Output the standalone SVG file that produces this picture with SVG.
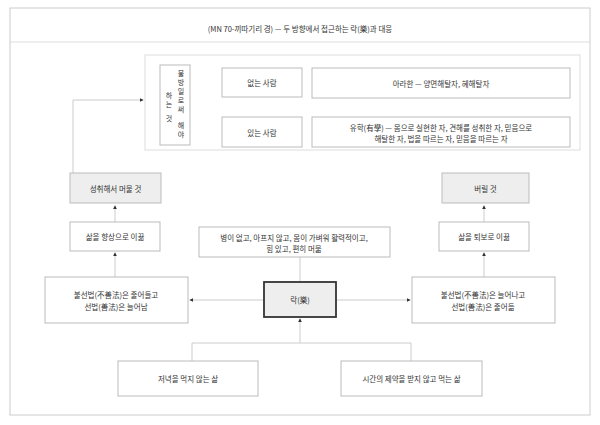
<svg xmlns="http://www.w3.org/2000/svg" width="600" height="425" viewBox="0 0 600 425">
<style>
text{font-family:"Noto Sans CJK KR","Noto Sans",sans-serif;font-size:7.5px;fill:#333;text-anchor:middle;dominant-baseline:central}
.v{font-size:7px}
.b{fill:#fff;stroke:#bbb;stroke-width:1}
.g{fill:#eee;stroke:#bbb;stroke-width:1}
.c{fill:none;stroke:#ccc;stroke-width:1}
</style>
<defs><marker id="a" viewBox="0 0 6 6" refX="5" refY="3" markerWidth="4" markerHeight="4" orient="auto"><path d="M0,0L6,3L0,6z" fill="#333"/></marker></defs>
<rect width="600" height="425" fill="#fff"/>
<rect x="10" y="8" width="580" height="407" fill="none" stroke="#ccc"/>
<text x="300" y="28" font-size="8">(MN 70-끼따기리 경) — 두 방향에서 접근하는 락(樂)과 대응</text>
<line x1="10" y1="42" x2="590" y2="42" stroke="#ddd"/>
<g id="connectors">
<path class="c" d="M190,105H207M207,82V132M207,82H222M207,132H222M302,82H312M302,132H312"/>
<path class="c" d="M73,173V100H143" marker-end="url(#a)"/>
<path class="c" d="M115,277V253" marker-end="url(#a)"/>
<path class="c" d="M115,222V206" marker-end="url(#a)"/>
<path class="c" d="M484,277V253" marker-end="url(#a)"/>
<path class="c" d="M484,222V206" marker-end="url(#a)"/>
<path class="c" d="M300,257V282"/>
<path class="c" d="M264,300H190" marker-end="url(#a)"/>
<path class="c" d="M336,300H410" marker-end="url(#a)"/>
<path class="c" d="M192,361V343H411V361M300,343V319" marker-end="url(#a)"/>
</g>
<g id="panel"><rect x="145" y="55" width="435" height="95" fill="#fff" stroke="#ddd"/></g>
<g id="n-vert"><rect class="b" x="160" y="65" width="30" height="80"/>
<text class="v"><tspan x="181" y="73">불</tspan><tspan x="181" y="82">방</tspan><tspan x="181" y="91">일</tspan><tspan x="181" y="100">로</tspan><tspan x="181" y="109">써</tspan><tspan x="181" y="125">해</tspan><tspan x="181" y="134">야</tspan></text>
<text class="v"><tspan x="169" y="95">하</tspan><tspan x="169" y="104">는</tspan><tspan x="169" y="118">것</tspan></text></g>
<g id="n-no"><rect class="b" x="222" y="68" width="80" height="29"/><text x="262" y="82.5">없는 사람</text></g>
<g id="n-yes"><rect class="b" x="222" y="117" width="80" height="30"/><text x="262" y="132">있는 사람</text></g>
<g id="n-arahant"><rect class="b" x="312" y="68" width="258" height="30"/><text x="441" y="83">아라한 — 양면해탈자, 혜해탈자</text></g>
<g id="n-sekha"><rect class="b" x="312" y="117" width="258" height="30"/><text x="441" y="127">유학(有學) — 몸으로 실현한 자, 견해를 성취한 자, 믿음으로</text><text x="441" y="138">해탈한 자, 법을 따르는 자, 믿음을 따르는 자</text></g>
<g id="n-stay"><rect class="g" x="70" y="173" width="91" height="30"/><text x="115.5" y="188">성취해서 머물 것</text></g>
<g id="n-up"><rect class="b" x="70" y="222" width="90" height="29"/><text x="115" y="236.5">삶을 향상으로 이끎</text></g>
<g id="n-left"><rect class="b" x="45" y="277" width="143" height="46"/><text x="116" y="294">불선법(不善法)은 줄어들고</text><text x="116" y="306">선법(善法)은 늘어남</text></g>
<g id="n-center"><rect x="264" y="282" width="72" height="35" fill="#eee" stroke="#333" stroke-width="1.8"/><text x="300" y="299.5">락(樂)</text></g>
<g id="n-top"><rect class="b" x="199" y="227" width="191" height="30"/><text x="294" y="237">병이 없고, 아프지 않고, 몸이 가벼워 활력적이고,</text><text x="294" y="248">힘 있고, 편히 머묾</text></g>
<g id="n-right"><rect class="b" x="412" y="277" width="143" height="46"/><text x="483" y="294">불선법(不善法)은 늘어나고</text><text x="483" y="306">선법(善法)은 줄어듦</text></g>
<g id="n-down"><rect class="b" x="439" y="222" width="90" height="29"/><text x="484" y="236.5">삶을 퇴보로 이끎</text></g>
<g id="n-drop"><rect class="g" x="442" y="173" width="87" height="30"/><text x="485.5" y="188">버릴 것</text></g>
<g id="n-b1"><rect class="b" x="118" y="361" width="140" height="35"/><text x="188" y="378.5">저녁을 먹지 않는 삶</text></g>
<g id="n-b2"><rect class="b" x="341" y="361" width="141" height="35"/><text x="411.5" y="378.5">시간의 제약을 받지 않고 먹는 삶</text></g>
</svg>
